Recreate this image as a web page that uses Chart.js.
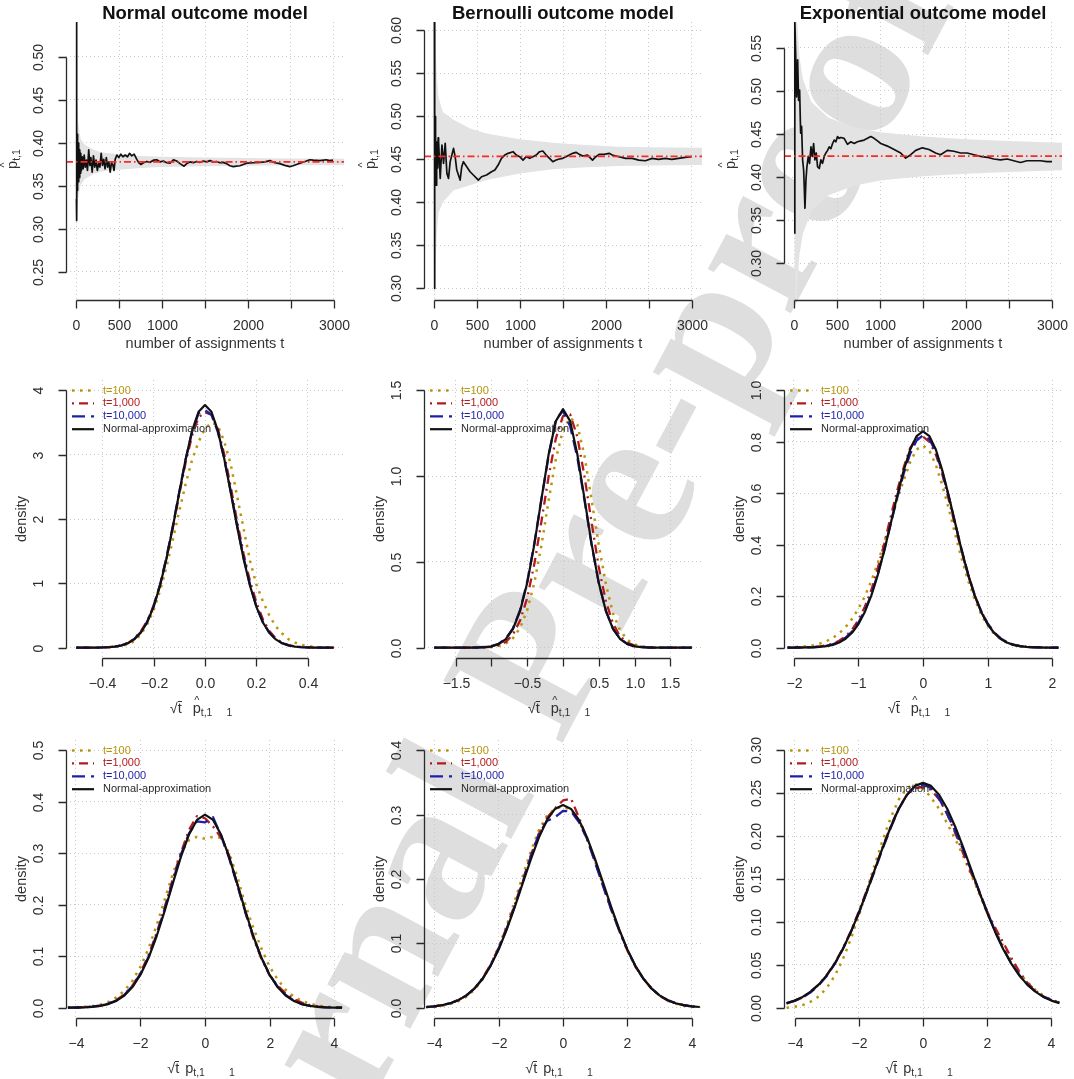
<!DOCTYPE html>
<html lang="en">
<head>
<meta charset="utf-8" />
<title>Outcome models: p-hat paths and densities</title>
<script src="https://cdn.jsdelivr.net/npm/chart.js@4.4"></script>
<style>
  html,body{margin:0;padding:0;background:#fff;}
  body{width:1074px;height:1079px;overflow:hidden;position:relative;font-family:"Liberation Sans",Arial,sans-serif;color:#222;}
  #wm{position:absolute;left:525px;top:665px;transform:translate(-50%,-50%) rotate(-62deg);font:bold 205px "Liberation Serif","DejaVu Serif",serif;color:#dedede;white-space:nowrap;z-index:0;line-height:1;}
  #page{position:absolute;left:0;top:0;width:1074px;height:1079px;z-index:1;}
  #page canvas{position:absolute;}
  .t{position:absolute;white-space:nowrap;z-index:2;}
  .main{width:278px;text-align:center;font-weight:bold;font-size:18.5px;line-height:22px;color:#111;}
  .xl{width:278px;text-align:center;font-size:14.5px;line-height:16px;color:#333;}
  .yl{font-size:14.5px;line-height:16px;color:#333;transform:translate(-50%,-50%) rotate(-90deg);}
  .hat{position:relative;display:inline-block;}
  .hat::before{content:"^";position:absolute;left:0;right:0;text-align:center;top:-8px;font-size:11px;}
  .ov{display:inline-block;border-top:1.3px solid #333;line-height:13px;}
  .g1{display:inline-block;width:11px;}
  .g2{display:inline-block;width:14px;}
  .g3{display:inline-block;width:6px;}
  .g4{display:inline-block;width:24px;}
  sub{font-size:10.5px;vertical-align:-3px;line-height:0;}
</style>
</head>
<body>
<div id="wm">Journal Pre-proof</div>
<div id="page"></div>

<script>
/***** ---------- Top row: running estimate of p_t,1 ---------- *****/
const T_MIN=-120, T_MAX=3120;
const T_TICKS =[0,500,1000,1500,2000,2500,3000];
const T_LABELS=['0','500','1000','','2000','','3000'];

// Normal outcome model
const normT=[1,2,3,5,7,9,12,15,18,22, 26,30,35,40,45,52,60,70,80,92,
  105,118,130,145,158,170,185,200,215,230, 245,260,275,290,305,320,335,350,365,380,
  395,410,425,440,453,473,496,519,543,570, 597,620,647,674,705,729,752,783,822,860,
  899,938,977,1015,1054,1093,1132,1170,1209,1256, 1287,1325,1364,1403,1442,1480,1519,1558,1597,1635,
  1674,1713,1752,1790,1829,1868,1907,1946,1984,2062, 2140,2198,2256,2314,2372,2430,2489,2527,2566,2624,
  2682,2721,2760,2837,2915,2953,2992];
const normP=[0.335,0.540,0.470,0.500,0.310,0.410,0.345,0.405,0.350,0.400, 0.355,0.395,0.360,0.392,0.365,0.388,0.368,0.384,0.370,0.386,
  0.372,0.380,0.368,0.392,0.374,0.383,0.366,0.385,0.372,0.380, 0.368,0.376,0.372,0.388,0.374,0.381,0.370,0.383,0.372,0.378,
  0.366,0.377,0.375,0.368,0.381,0.386,0.383,0.387,0.384,0.386, 0.384,0.388,0.385,0.387,0.381,0.377,0.375,0.377,0.3785,0.3775,
  0.380,0.3805,0.378,0.379,0.377,0.3765,0.3805,0.379,0.376,0.373, 0.376,0.378,0.377,0.3785,0.3775,0.379,0.378,0.3795,0.378,0.3785,
  0.377,0.3775,0.376,0.3735,0.3725,0.373,0.3735,0.375,0.3765,0.377, 0.3775,0.378,0.3795,0.377,0.376,0.374,0.3725,0.3735,0.375,0.377,
  0.379,0.3805,0.380,0.3795,0.3805,0.3795,0.380];
const normBandT =[1,20,50,100,200,300,500,750,1000,1500,2000,2500,3000,3120];
const normBandHi=[0.47,0.425,0.405,0.398,0.392,0.389,0.387,0.385,0.384,0.383,0.3825,0.382,0.3818,0.3818];
const normBandLo=[0.29,0.335,0.351,0.358,0.364,0.367,0.369,0.371,0.372,0.373,0.3735,0.374,0.3742,0.3742];
const NORM_REF=0.378;

// Bernoulli outcome model
const bernT=[1,2,3,4,6,8,10,13,16,20, 25,30,35,40,45,50,69,89,108,127,
  147,166,185,224,243,262,301,320,339,378, 417,455,494,513,551,609,667,706,744,783,
  821,860,918,956,995,1034,1072,1111,1150,1188, 1227,1265,1304,1343,1381,1420,1458,1497,1535,1574,
  1613,1651,1690,1729,1786,1844,1883,1921,1979,2037, 2075,2152,2229,2306,2383,2461,2538,2615,2692,2769,
  2846,2924,3001];
const bernP=[0.610,0.300,0.560,0.400,0.520,0.420,0.500,0.440,0.480,0.420, 0.470,0.435,0.465,0.440,0.475,0.4706,0.4279,0.4667,0.4453,0.4686,
  0.4337,0.4279,0.4473,0.4628,0.4531,0.4376,0.4259,0.4415,0.4473,0.4415, 0.4356,0.4318,0.4279,0.4259,0.4298,0.4318,0.4356,0.4376,0.4434,0.4512,
  0.455,0.457,0.4589,0.455,0.4531,0.4492,0.4531,0.4512,0.4531,0.455, 0.4589,0.4597,0.455,0.4512,0.4473,0.4492,0.4504,0.4512,0.4531,0.455,
  0.457,0.4582,0.4558,0.4539,0.455,0.4492,0.4531,0.4558,0.4558,0.457, 0.455,0.4531,0.4512,0.4512,0.4492,0.4484,0.4512,0.450,0.4512,0.450,
  0.4512,0.4523,0.4531];
const bernBandT =[1,10,20,30,50,100,224,417,609,995,1381,1766,2152,2538,3120];
const bernBandHi=[0.70,0.62,0.57,0.545,0.522,0.505,0.496,0.486,0.480,0.4733,0.4694,0.4667,0.4648,0.464,0.4636];
const bernBandLo=[0.20,0.29,0.34,0.365,0.388,0.400,0.414,0.420,0.426,0.4337,0.4384,0.4407,0.4422,0.443,0.4434];
const BERN_REF=0.4535;

// Exponential outcome model
const expT=[1,4,8,15,27,39,50,62,74,85, 97,109,116,124,136,147,163,178,194,209,
  225,240,256,271,291,310,329,349,368,388, 407,426,446,465,484,504,523,543,581,620,
  659,698,736,775,814,853,891,930,969,1008, 1085,1163,1240,1298,1357,1415,1492,1570,1647,1705,
  1783,1860,1938,2015,2093,2170,2248,2325,2403,2481, 2558,2636,2713,2791,2868,2946,3004];
const expP=[0.335,0.567,0.582,0.547,0.493,0.536,0.489,0.501,0.451,0.459, 0.420,0.408,0.389,0.364,0.397,0.412,0.424,0.416,0.435,0.424,
  0.439,0.420,0.428,0.412,0.410,0.420,0.416,0.424,0.428,0.431, 0.435,0.433,0.439,0.443,0.441,0.447,0.445,0.446,0.445,0.438,
  0.441,0.439,0.441,0.442,0.443,0.445,0.447,0.445,0.442,0.439, 0.436,0.432,0.428,0.422,0.426,0.431,0.434,0.432,0.428,0.426,
  0.431,0.430,0.428,0.428,0.426,0.424,0.423,0.421,0.420,0.421, 0.419,0.417,0.419,0.419,0.419,0.418,0.418];
const expBandT =[1,10,30,60,100,200,400,700,1000,1500,2000,2500,3120];
const expBandHi=[1.2,0.70,0.585,0.54,0.514,0.487,0.469,0.458,0.452,0.447,0.444,0.442,0.440];
const expBandLo=[-0.4,0.14,0.265,0.31,0.334,0.361,0.379,0.390,0.396,0.401,0.404,0.406,0.408];
const EXP_REF=0.4244;

/***** ---------- Middle row: densities of sqrt(t)(p-hat - p) ---------- *****/
const LEGEND=['t=100','t=1,000','t=10,000','Normal-approximation'];

const mnX=[-0.5,-0.475,-0.45,-0.425,-0.4,-0.375,-0.35,-0.325,-0.3,-0.275,-0.25,-0.225,-0.2,-0.175,-0.15,-0.125,-0.1,-0.075,-0.05,-0.025,
  0,0.025,0.05,0.075,0.1,0.125,0.15,0.175,0.2,0.225,0.25,0.275,0.3,0.325,0.35,0.375,0.4,0.425,0.45,0.475,0.5];
const mnT100  =[0,0,0,0.001,0.002,0.005,0.010,0.025,0.050,0.100,0.200,0.360,0.580,0.880,1.250,1.680,2.120,2.550,2.920,3.200,
  3.400,3.500,3.450,3.200,2.850,2.350,1.850,1.350,0.980,0.720,0.500,0.330,0.220,0.130,0.080,0.045,0.025,0.012,0.006,0.003,0.001];
const mnT1000 =[0,0,0.001,0.002,0.004,0.009,0.018,0.036,0.070,0.140,0.250,0.410,0.650,0.970,1.380,1.860,2.380,2.880,3.300,3.580,
  3.660,3.620,3.400,3.000,2.500,1.960,1.460,1.030,0.700,0.440,0.260,0.145,0.075,0.040,0.020,0.010,0.005,0.002,0.001,0,0];
const mnT10000=[0,0,0.001,0.002,0.004,0.009,0.018,0.036,0.072,0.135,0.240,0.400,0.645,0.975,1.400,1.890,2.420,2.930,3.360,3.640,
  3.690,3.620,3.350,2.930,2.430,1.900,1.400,0.980,0.640,0.400,0.235,0.130,0.070,0.035,0.017,0.008,0.004,0.002,0.001,0,0];
const mnNorm  =[0,0,0,0.001,0.003,0.007,0.016,0.034,0.068,0.129,0.231,0.392,0.631,0.960,1.379,1.876,2.412,2.932,3.372,3.666,
  3.770,3.666,3.372,2.932,2.412,1.876,1.379,0.960,0.631,0.392,0.231,0.129,0.068,0.034,0.016,0.007,0.003,0.001,0,0,0];

const mbX=[-1.8,-1.7,-1.6,-1.5,-1.4,-1.3,-1.2,-1.1,-1.0,-0.9,-0.8,-0.7,-0.6,-0.5,-0.4,-0.3,-0.2,-0.1,
  0,0.1,0.2,0.3,0.4,0.5,0.6,0.7,0.8,0.9,1.0,1.1,1.2,1.3,1.4,1.5,1.6,1.7,1.8];
const mbT100  =[0,0,0,0,0.001,0.001,0.001,0.002,0.004,0.010,0.025,0.055,0.115,0.220,0.380,0.600,0.860,1.100,
  1.270,1.340,1.300,1.120,0.860,0.600,0.370,0.200,0.100,0.045,0.020,0.008,0.003,0.001,0.001,0,0,0,0];
const mbT1000 =[0,0,0,0,0,0.001,0.001,0.002,0.005,0.014,0.034,0.077,0.158,0.290,0.490,0.740,1.000,1.220,
  1.350,1.360,1.230,1.000,0.730,0.470,0.270,0.140,0.065,0.030,0.012,0.005,0.002,0.001,0,0,0,0,0];
const mbT10000=[0,0,0,0,0,0.001,0.002,0.004,0.009,0.023,0.053,0.113,0.220,0.385,0.610,0.870,1.120,1.330,
  1.380,1.290,1.110,0.860,0.600,0.378,0.215,0.110,0.052,0.022,0.009,0.004,0.002,0.001,0,0,0,0,0];
const mbNorm  =[0,0,0,0,0,0,0.001,0.003,0.008,0.021,0.050,0.109,0.214,0.378,0.605,0.870,1.129,1.320,
  1.390,1.320,1.129,0.870,0.605,0.378,0.214,0.109,0.050,0.021,0.008,0.003,0.001,0,0,0,0,0,0];

const meX=[-2.1,-2.0,-1.9,-1.8,-1.7,-1.6,-1.5,-1.4,-1.3,-1.2,-1.1,-1.0,-0.9,-0.8,-0.7,-0.6,-0.5,-0.4,-0.3,-0.2,-0.1,
  0,0.1,0.2,0.3,0.4,0.5,0.6,0.7,0.8,0.9,1.0,1.1,1.2,1.3,1.4,1.5,1.6,1.7,1.8,1.9,2.0,2.1];
const meT100  =[0,0.002,0.004,0.006,0.010,0.016,0.025,0.038,0.056,0.080,0.112,0.152,0.200,0.260,0.330,0.410,0.490,0.575,0.650,0.720,0.770,
  0.785,0.765,0.710,0.630,0.540,0.440,0.345,0.260,0.190,0.130,0.087,0.055,0.034,0.020,0.011,0.006,0.003,0.002,0.001,0,0,0];
const meT1000 =[0,0.001,0.001,0.002,0.003,0.005,0.009,0.016,0.027,0.044,0.070,0.108,0.160,0.225,0.310,0.405,0.510,0.610,0.700,0.775,0.815,
  0.820,0.800,0.750,0.672,0.575,0.472,0.372,0.282,0.204,0.142,0.095,0.060,0.037,0.022,0.012,0.007,0.004,0.002,0.001,0.001,0,0];
const meT10000=[0,0,0.001,0.001,0.002,0.004,0.007,0.013,0.023,0.039,0.063,0.098,0.146,0.208,0.287,0.379,0.481,0.583,0.676,0.753,0.805,
  0.825,0.810,0.760,0.682,0.586,0.482,0.379,0.286,0.206,0.143,0.095,0.060,0.037,0.021,0.012,0.006,0.003,0.002,0.001,0,0,0];
const meNorm  =[0,0,0,0.001,0.001,0.003,0.006,0.011,0.020,0.035,0.058,0.092,0.140,0.203,0.284,0.378,0.483,0.589,0.688,0.769,0.822,
  0.840,0.822,0.769,0.688,0.589,0.483,0.378,0.284,0.203,0.140,0.092,0.058,0.035,0.020,0.011,0.006,0.003,0.001,0.001,0,0,0];

/***** ---------- Bottom row: densities of the studentised statistic ---------- *****/
const bX=[-4.25,-4,-3.75,-3.5,-3.25,-3,-2.75,-2.5,-2.25,-2,-1.75,-1.5,-1.25,-1,-0.75,-0.5,-0.25,
  0,0.25,0.5,0.75,1,1.25,1.5,1.75,2,2.25,2.5,2.75,3,3.25,3.5,3.75,4,4.25];

const bnT100  =[0,0.001,0.002,0.003,0.006,0.011,0.020,0.033,0.052,0.080,0.115,0.160,0.210,0.260,0.300,0.325,0.332,
  0.328,0.332,0.330,0.300,0.255,0.200,0.155,0.115,0.080,0.055,0.035,0.022,0.013,0.008,0.004,0.002,0.001,0];
const bnT1000 =[0,0.0004,0.001,0.002,0.004,0.008,0.015,0.026,0.043,0.068,0.102,0.145,0.195,0.250,0.300,0.345,0.372,
  0.368,0.352,0.330,0.295,0.240,0.185,0.135,0.095,0.063,0.043,0.028,0.017,0.010,0.005,0.0025,0.001,0.0004,0];
const bnT10000=[0,0.0004,0.001,0.002,0.004,0.008,0.014,0.025,0.042,0.066,0.099,0.142,0.192,0.245,0.297,0.338,0.362,
  0.360,0.370,0.334,0.290,0.238,0.186,0.138,0.097,0.065,0.041,0.025,0.014,0.007,0.0035,0.0017,0.0008,0.0003,0];
const bnNorm  =[0,0.0003,0.0008,0.0017,0.0035,0.007,0.0133,0.0237,0.0401,0.0641,0.0969,0.1388,0.1881,0.2411,0.2925,0.3358,0.3648,
  0.375,0.3648,0.3358,0.2925,0.2411,0.1881,0.1388,0.0969,0.0641,0.0401,0.0237,0.0133,0.007,0.0035,0.0017,0.0008,0.0003,0];

const bbT100  =[0.001,0.002,0.003,0.006,0.010,0.017,0.028,0.044,0.066,0.094,0.128,0.166,0.205,0.243,0.276,0.298,0.310,
  0.312,0.308,0.290,0.262,0.227,0.190,0.153,0.119,0.089,0.064,0.045,0.030,0.019,0.011,0.006,0.003,0.002,0.001];
const bbT1000 =[0.001,0.002,0.004,0.007,0.012,0.019,0.030,0.046,0.067,0.093,0.125,0.160,0.198,0.237,0.270,0.295,0.310,
  0.322,0.325,0.295,0.262,0.228,0.190,0.153,0.120,0.089,0.064,0.045,0.030,0.019,0.011,0.007,0.004,0.002,0.001];
const bbT10000=[0.001,0.002,0.004,0.007,0.012,0.019,0.030,0.045,0.066,0.092,0.123,0.158,0.196,0.235,0.270,0.290,0.296,
  0.306,0.305,0.288,0.262,0.225,0.188,0.152,0.120,0.090,0.065,0.045,0.030,0.019,0.012,0.007,0.004,0.002,0.001];
const bbNorm  =[0.0011,0.0021,0.0039,0.0069,0.0117,0.0191,0.0298,0.0449,0.065,0.0905,0.1213,0.1562,0.1936,0.2306,0.2643,0.2914,0.3089,
  0.315,0.3089,0.2914,0.2643,0.2306,0.1936,0.1562,0.1213,0.0905,0.065,0.0449,0.0298,0.0191,0.0117,0.0069,0.0039,0.0021,0.0011];

const beT100  =[0,0.001,0.003,0.007,0.013,0.023,0.037,0.056,0.080,0.107,0.137,0.167,0.196,0.222,0.243,0.256,0.261,
  0.256,0.245,0.232,0.215,0.197,0.177,0.155,0.133,0.110,0.090,0.072,0.055,0.040,0.030,0.021,0.014,0.009,0.006];
const beT1000 =[0.005,0.008,0.012,0.019,0.027,0.038,0.052,0.069,0.089,0.112,0.137,0.162,0.188,0.212,0.233,0.248,0.256,
  0.257,0.254,0.243,0.226,0.204,0.180,0.157,0.135,0.112,0.093,0.076,0.058,0.042,0.029,0.020,0.013,0.009,0.006];
const beT10000=[0.005,0.008,0.012,0.018,0.026,0.037,0.051,0.068,0.088,0.110,0.135,0.160,0.186,0.210,0.232,0.248,0.258,
  0.260,0.256,0.244,0.226,0.206,0.184,0.160,0.136,0.112,0.089,0.069,0.052,0.038,0.027,0.019,0.013,0.009,0.006];
const beNorm  =[0.0053,0.0083,0.0126,0.0187,0.0269,0.0376,0.0513,0.0681,0.088,0.1106,0.1354,0.1613,0.1871,0.2112,0.2321,0.2482,0.2585,
  0.262,0.2585,0.2482,0.2321,0.2112,0.1871,0.1613,0.1354,0.1106,0.088,0.0681,0.0513,0.0376,0.0269,0.0187,0.0126,0.0083,0.0053];

/***** ---------- Style / layout ---------- *****/
const COL_X=[0,358,718], ROW_Y=[2,360,720];
const CW=358, CH=360;
const PAD={left:66,right:14,top:20,bottom:62};
const C_T100='#b8960c', C_T1000='#b31a1e', C_T10000='#1f1fa8', C_NORM='#111111';
const C_REF='#ff2626', C_BAND='#e3e3e3', C_GRID='#c8c8c8', C_AXIS='#2a2a2a', C_TEXT='#2e2e2e';
const DASH_DOT=[2.5,5.5], DASH_DOTDASH=[2,5,9,5], DASH_LONG=[13,6], DASH_REF=[7,3,1.5,3];
const FONT='"Liberation Sans", Arial, sans-serif';
const TICK_LEN=8;

const panels=[
  {col:0,row:0,kind:'path',t:normT,p:normP,bt:normBandT,hi:normBandHi,lo:normBandLo,ref:NORM_REF,
   x:[T_MIN,T_MAX],y:[0.2174,0.5407],xt:T_TICKS,xl:T_LABELS,
   yt:[0.25,0.30,0.35,0.40,0.45,0.50],yl:['0.25','0.30','0.35','0.40','0.45','0.50']},
  {col:1,row:0,kind:'path',t:bernT,p:bernP,bt:bernBandT,hi:bernBandHi,lo:bernBandLo,ref:BERN_REF,
   x:[T_MIN,T_MAX],y:[0.2864,0.6098],xt:T_TICKS,xl:T_LABELS,
   yt:[0.30,0.35,0.40,0.45,0.50,0.55,0.60],yl:['0.30','0.35','0.40','0.45','0.50','0.55','0.60']},
  {col:2,row:0,kind:'path',t:expT,p:expP,bt:expBandT,hi:expBandHi,lo:expBandLo,ref:EXP_REF,
   x:[T_MIN,T_MAX],y:[0.2574,0.58],xt:T_TICKS,xl:T_LABELS,
   yt:[0.30,0.35,0.40,0.45,0.50,0.55],yl:['0.30','0.35','0.40','0.45','0.50','0.55']},

  {col:0,row:1,kind:'dens',dx:mnX,s:[mnNorm,mnT10000,mnT1000,mnT100],
   x:[-0.54,0.54],y:[-0.16,4.16],xt:[-0.4,-0.2,0,0.2,0.4],xl:['\u22120.4','\u22120.2','0.0','0.2','0.4'],
   yt:[0,1,2,3,4],yl:['0','1','2','3','4']},
  {col:1,row:1,kind:'dens',dx:mbX,s:[mbNorm,mbT10000,mbT1000,mbT100],
   x:[-1.944,1.944],y:[-0.06,1.56],xt:[-1.5,-1,-0.5,0,0.5,1,1.5],xl:['\u22121.5','','\u22120.5','','0.5','1.0','1.5'],
   yt:[0,0.5,1,1.5],yl:['0.0','0.5','1.0','1.5']},
  {col:2,row:1,kind:'dens',dx:meX,s:[meNorm,meT10000,meT1000,meT100],
   x:[-2.155,2.155],y:[-0.04,1.04],xt:[-2,-1,0,1,2],xl:['\u22122','\u22121','0','1','2'],
   yt:[0,0.2,0.4,0.6,0.8,1],yl:['0.0','0.2','0.4','0.6','0.8','1.0']},

  {col:0,row:2,kind:'dens',dx:bX,s:[bnNorm,bnT10000,bnT1000,bnT100],
   x:[-4.31,4.31],y:[-0.02,0.52],xt:[-4,-2,0,2,4],xl:['\u22124','\u22122','0','2','4'],
   yt:[0,0.1,0.2,0.3,0.4,0.5],yl:['0.0','0.1','0.2','0.3','0.4','0.5']},
  {col:1,row:2,kind:'dens',dx:bX,s:[bbNorm,bbT10000,bbT1000,bbT100],
   x:[-4.32,4.32],y:[-0.016,0.416],xt:[-4,-2,0,2,4],xl:['\u22124','\u22122','0','2','4'],
   yt:[0,0.1,0.2,0.3,0.4],yl:['0.0','0.1','0.2','0.3','0.4']},
  {col:2,row:2,kind:'dens',dx:bX,s:[beNorm,beT10000,beT1000,beT100],
   x:[-4.33,4.33],y:[-0.012,0.312],xt:[-4,-2,0,2,4],xl:['\u22124','\u22122','0','2','4'],
   yt:[0,0.05,0.1,0.15,0.2,0.25,0.3],yl:['0.00','0.05','0.10','0.15','0.20','0.25','0.30']}
];

/***** ---------- Dataset builders ---------- *****/
const xy=(xs,ys)=>xs.map((v,i)=>({x:v,y:ys[i]}));
const NONE='rgba(0,0,0,0)';

function pathSets(P){
  // index 0 is drawn on top
  return [
    {data:[{x:T_MIN,y:P.ref},{x:T_MAX,y:P.ref}],borderColor:C_REF,borderWidth:1.6,borderDash:DASH_REF},
    {data:xy(P.t,P.p),borderColor:C_NORM,borderWidth:1.7},
    {data:xy(P.bt,P.hi),borderColor:NONE,borderWidth:0,fill:'+1',backgroundColor:C_BAND},
    {data:xy(P.bt,P.lo),borderColor:NONE,borderWidth:0}
  ];
}
function densSets(P){
  const [norm,t10000,t1000,t100]=P.s;
  return [
    {label:LEGEND[3],data:xy(P.dx,norm),borderColor:C_NORM,borderWidth:2.2},
    {label:LEGEND[2],data:xy(P.dx,t10000),borderColor:C_T10000,borderWidth:2.3,borderDash:DASH_LONG},
    {label:LEGEND[1],data:xy(P.dx,t1000),borderColor:C_T1000,borderWidth:2.3,borderDash:DASH_DOTDASH},
    {label:LEGEND[0],data:xy(P.dx,t100),borderColor:C_T100,borderWidth:2.5,borderDash:DASH_DOT}
  ];
}

/***** ---------- Scales: dotted grid only, axes drawn R-style below ---------- *****/
function scale(range,ticks){
  return {
    type:'linear',min:range[0],max:range[1],
    afterBuildTicks:s=>{s.ticks=ticks.map(v=>({value:v}));},
    afterFit:s=>{if(s.isHorizontal())s.height=0;else s.width=0;},
    ticks:{display:false},
    grid:{color:C_GRID,lineWidth:1,drawTicks:false},
    border:{display:false,dash:[1,3]}
  };
}

// axis line spans first..last tick, ticks point outwards, y labels rotated
function rAxis(P){
  return {
    id:'rAxis',
    afterDraw(chart){
      const {ctx,chartArea:a}=chart;
      const sx=chart.scales.x, sy=chart.scales.y;
      const px=P.xt.map(v=>Math.round(sx.getPixelForValue(v))+0.5);
      const py=P.yt.map(v=>Math.round(sy.getPixelForValue(v))+0.5);
      const by=Math.round(a.bottom)+0.5, lx=Math.round(a.left)+0.5;
      ctx.save();
      ctx.strokeStyle=C_AXIS;ctx.lineWidth=1.3;ctx.setLineDash([]);
      ctx.beginPath();
      ctx.moveTo(px[0],by);ctx.lineTo(px[px.length-1],by);
      px.forEach(p=>{ctx.moveTo(p,by);ctx.lineTo(p,by+TICK_LEN);});
      ctx.moveTo(lx,py[0]);ctx.lineTo(lx,py[py.length-1]);
      py.forEach(p=>{ctx.moveTo(lx,p);ctx.lineTo(lx-TICK_LEN,p);});
      ctx.stroke();
      ctx.fillStyle=C_TEXT;ctx.font='14px '+FONT;
      ctx.textAlign='center';ctx.textBaseline='middle';
      P.xl.forEach((s,i)=>{if(s)ctx.fillText(s,px[i],by+26);});
      P.yl.forEach((s,i)=>{
        ctx.save();ctx.translate(lx-27,py[i]);ctx.rotate(-Math.PI/2);
        ctx.fillText(s,0,0);ctx.restore();
      });
      ctx.restore();
    }
  };
}

// legend in the top-left corner of the plot region, no box
const rLegend={
  id:'rLegend',
  afterDraw(chart){
    const {ctx,chartArea:a}=chart;
    const sets=chart.data.datasets.slice().reverse();
    ctx.save();
    ctx.font='11px '+FONT;ctx.textAlign='left';ctx.textBaseline='middle';
    sets.forEach((d,i)=>{
      const y=a.top+10.5+i*12.9;
      ctx.strokeStyle=d.borderColor;ctx.lineWidth=d.borderWidth;ctx.setLineDash(d.borderDash||[]);
      ctx.beginPath();ctx.moveTo(a.left+6,y);ctx.lineTo(a.left+28,y);ctx.stroke();
      ctx.fillStyle=d.borderColor===C_NORM?'#2a2a2a':d.borderColor;
      ctx.fillText(d.label,a.left+37,y);
    });
    ctx.restore();
  }
};

/***** ---------- Build charts ---------- *****/
const page=document.getElementById('page');
panels.forEach(P=>{
  const cv=document.createElement('canvas');
  cv.width=CW;cv.height=CH;
  cv.style.left=COL_X[P.col]+'px';cv.style.top=ROW_Y[P.row]+'px';
  page.appendChild(cv);
  new Chart(cv,{
    type:'line',
    data:{datasets:P.kind==='path'?pathSets(P):densSets(P)},
    options:{
      responsive:false,animation:false,events:[],
      layout:{padding:PAD},
      elements:{point:{radius:0},line:{tension:0,borderJoinStyle:'round'}},
      plugins:{legend:{display:false},tooltip:{enabled:false}},
      scales:{x:scale(P.x,P.xt),y:scale(P.y,P.yt)}
    },
    plugins:P.kind==='path'?[rAxis(P)]:[rAxis(P),rLegend]
  });
});

/***** ---------- Titles and axis labels (HTML text) ---------- *****/
const TITLES=['Normal outcome model','Bernoulli outcome model','Exponential outcome model'];
const LAB_T='number of assignments t';
const LAB_PHAT='<span class="hat">p</span><sub>t,1</sub>';
const LAB_X_HAT='\u221A<span class="ov">t</span><span class="g1"></span><span class="hat">p</span><sub>t,1</sub><span class="g2"></span><sub>1</sub>';
const LAB_X_P='\u221A<span class="ov">t</span><span class="g3"></span>p<sub>t,1</sub><span class="g4"></span><sub>1</sub>';

function addText(cls,html,left,top){
  const d=document.createElement('div');
  d.className='t '+cls;d.innerHTML=html;
  d.style.left=left+'px';d.style.top=top+'px';
  page.appendChild(d);
}
COL_X.forEach((cx,c)=>{
  const L=cx+PAD.left;
  addText('main',TITLES[c],L,ROW_Y[0]);
  addText('xl',LAB_T,L,335);
  addText('yl',LAB_PHAT,L-54,159);
  addText('xl',LAB_X_HAT,L-4,700);
  addText('yl','density',L-45,519);
  addText('xl',LAB_X_P,L-4,1060);
  addText('yl','density',L-45,879);
});
</script>
</body>
</html>
